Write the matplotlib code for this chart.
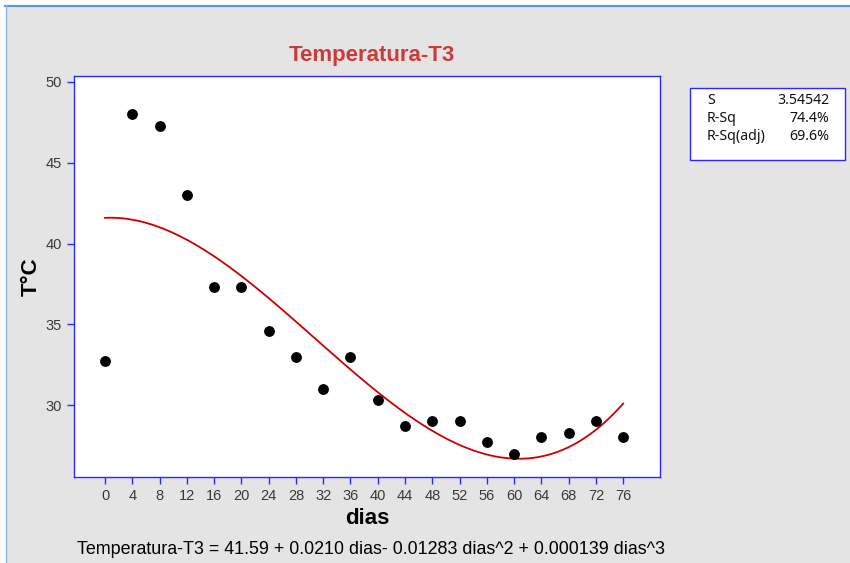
import matplotlib.pyplot as plt
import numpy as np
from matplotlib.patches import Rectangle
from matplotlib.lines import Line2D

plt.rcParams["font.family"] = ["Liberation Sans", "DejaVu Sans"]

dias = [0, 4, 8, 12, 16, 20, 24, 28, 32, 36, 40, 44, 48, 52, 56, 60, 64, 68, 72, 76]
temperatura = [32.7, 48.0, 47.3, 43.0, 37.3, 37.3, 34.6, 33.0, 31.0, 33.0,
               30.3, 28.7, 29.0, 29.0, 27.7, 27.0, 28.0, 28.3, 29.0, 28.0]
# cubic fit coefficients (b0, b1, b2, b3) as reported
coefs = [41.59, 0.0210, -0.01283, 0.000139]
stats_labels = ["S", "R-Sq", "R-Sq(adj)"]
stats_values = ["3.54542", "74.4%", "69.6%"]
yticks = [30, 35, 40, 45, 50]

W, H = 850, 563
fig = plt.figure(figsize=(W / 100, H / 100), dpi=100, facecolor="white")

# window-like gray panel with blue top/left border
fig.add_artist(Rectangle((6 / W, 0), 1, 1 - 6 / H, transform=fig.transFigure,
                         facecolor="#e4e4e4", edgecolor="none", zorder=-10))
fig.add_artist(Line2D([5 / W, 1], [1 - 5.5 / H, 1 - 5.5 / H], transform=fig.transFigure,
                      color="#5b9bd5", lw=1.6))
fig.add_artist(Line2D([5.5 / W, 5.5 / W], [0, 1 - 5 / H], transform=fig.transFigure,
                      color="#8fb4e0", lw=1.0))

ax = fig.add_axes([74 / W, 1 - 477 / H, (660 - 74) / W, (477 - 76) / H])
ax.set_facecolor("white")

x = np.array(dias)
xf = np.linspace(0, 76, 200)
yf = coefs[0] + coefs[1] * xf + coefs[2] * xf ** 2 + coefs[3] * xf ** 3
ax.plot(xf, yf, color="#cc0000", lw=1.3, zorder=2)
ax.scatter(x, temperatura, s=46, color="black", zorder=3)

ax.set_xlim(-4.55, 81.4)
ax.set_ylim(25.55, 50.37)
ax.set_xticks(dias)
ax.set_yticks(yticks)
for sp in ax.spines.values():
    sp.set_color("#2a2aff")
    sp.set_linewidth(1.0)
ax.tick_params(colors="#2a2aff", labelcolor="#3a3a3a", labelsize=10.5,
               length=5, width=1, direction="out")

ax.set_xlabel("dias", fontsize=16, fontweight="bold", labelpad=4)
ax.set_ylabel("T°C", fontsize=16, fontweight="bold", labelpad=3)

fig.text(372 / W, 1 - 55 / H, "Temperatura-T3", ha="center", va="center",
         fontsize=16, fontweight="bold", color="#cc3b3b",
         family=["Liberation Sans Narrow", "Liberation Sans", "DejaVu Sans"])

fig.text(371 / W, 1 - 549 / H,
         "Temperatura-T3 = 41.59 + 0.0210 dias- 0.01283 dias^2 + 0.000139 dias^3",
         ha="center", va="center", fontsize=12.9, color="black")

# stats box
fig.add_artist(Rectangle((690 / W, 1 - 160 / H), 155 / W, 72 / H,
                         transform=fig.transFigure, facecolor="white",
                         edgecolor="#2a2aff", lw=1.0))
for i, (lab, val) in enumerate(zip(stats_labels, stats_values)):
    yy = 1 - (101 + 18 * i) / H
    fig.text(707 / W, yy, lab, ha="left", va="center", fontsize=10.2,
             color="#111111", family=["Noto Sans", "DejaVu Sans"])
    fig.text(829 / W, yy, val, ha="right", va="center", fontsize=10.2,
             color="#111111", family=["Noto Sans", "DejaVu Sans"])

fig.savefig("out.png", dpi=100, facecolor=fig.get_facecolor())
